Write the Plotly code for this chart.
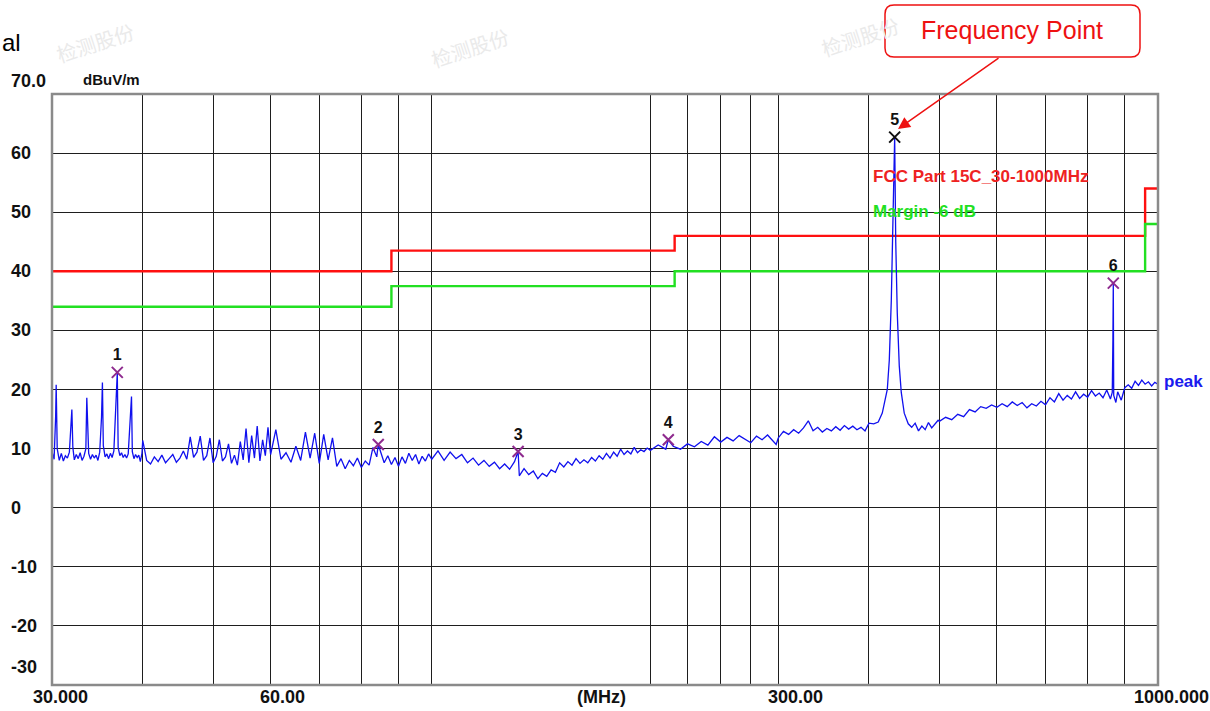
import math
import plotly.graph_objects as go

# ---------------- data ----------------
freq_mhz = [
    30.0, 30.2, 30.35, 30.4, 30.5, 30.7, 30.9, 31.1, 31.3, 31.5, 31.7, 31.85, 31.95, 32.05,
    32.2, 32.4, 32.6, 32.8, 33.0, 33.2, 33.4, 33.5, 33.6, 33.7, 33.9, 34.1, 34.3, 34.5,
    34.7, 34.9, 35.1, 35.2, 35.3, 35.5, 35.7, 35.9, 36.1, 36.3, 36.5, 36.75, 36.9, 37.0,
    37.2, 37.4, 37.6, 37.8, 38.0, 38.2, 38.45, 38.6, 38.7, 38.9, 39.1, 39.3, 39.5, 39.7, 39.9,
    40.0, 40.5, 41.0, 41.5, 42.0, 42.5, 43.0, 43.5, 44.0, 44.5, 45.0, 45.5, 46.0, 46.5,
    47.0, 47.5, 48.0, 48.5, 49.0, 49.5, 50.0, 50.5, 51.0, 51.5, 52.0, 52.5, 53.0, 53.5,
    54.0, 54.5, 55.0, 55.5, 56.0, 56.5, 57.0, 57.5, 58.0, 58.5, 59.0, 59.5, 60.0,
    61, 62, 63, 64, 65, 66, 67, 68, 69, 70, 71, 72, 73, 74, 75, 76, 77, 78, 79, 80,
    81, 82, 83, 84, 84.4, 85, 86, 87, 88, 89, 90, 91, 92, 93, 94, 95, 96, 97, 98, 99,
    100, 102, 104, 106, 108, 110, 112, 114, 116, 118, 120, 122, 124, 126, 128, 130, 131.5,
    132, 134, 136, 138, 140, 142, 144, 146, 148, 150, 152, 154, 156, 158, 160, 162, 164,
    166, 168, 170, 172, 174, 176, 178, 180, 182, 184, 186, 188, 190, 192, 194, 196, 198, 200,
    205, 210, 211.7, 215, 220, 225, 230, 235, 240, 245, 250, 255, 260, 265, 270, 275, 280,
    285, 290, 295, 298, 300, 305, 310, 315, 320, 325, 330, 335, 340, 345, 350, 355, 360,
    365, 370, 375, 380, 385, 390, 395, 400, 406, 411.9, 417.2, 423.9, 426.6, 429.3, 432.0,
    433.92, 435.4, 437.5, 440.3, 443.1, 447.3, 453.0, 458, 463, 468, 473, 478, 483, 488,
    493, 498, 500, 510, 520, 530, 540, 550, 560, 570, 580, 590, 600, 610, 620, 630, 640,
    650, 660, 670, 680, 690, 700, 710, 720, 730, 740, 750, 760, 770, 780, 790, 800, 810,
    820, 830, 840, 850, 860, 865, 866.8, 867.84, 869, 875, 880, 890, 900, 910, 920, 930,
    940, 950, 960, 970, 980, 990, 1000,
]
peak_dbuv = [
    9.5, 8.2, 15.5, 20.8, 10.0, 8.0, 9.2, 7.9, 8.8, 8.4, 9.4, 15.2, 16.6, 10.2,
    8.1, 9.0, 8.3, 9.3, 8.0, 8.7, 10.0, 18.6, 15.0, 9.2, 8.2, 9.0, 8.4, 8.9,
    8.0, 9.4, 15.3, 21.2, 10.5, 8.6, 9.1, 8.3, 9.2, 8.5, 9.6, 18.8, 22.9, 10.2,
    8.8, 9.3, 8.5, 9.0, 8.4, 9.1, 15.3, 18.8, 9.5, 8.3, 9.0, 8.5, 8.9, 7.8, 9.2,
    11.4, 8.0, 7.4, 8.6, 7.8, 8.9, 7.6, 8.3, 9.0, 7.7, 8.4, 9.6, 8.2, 12.0,
    8.5, 9.4, 12.1, 8.0, 8.8, 11.8, 7.6, 8.7, 11.5, 7.9, 8.6, 10.8, 7.5, 8.9,
    7.2, 11.2, 8.1, 13.4, 7.6, 12.2, 8.4, 13.8, 7.9, 11.5, 8.8, 13.6, 9.0,
    13.2, 8.2, 9.3, 7.7, 10.4, 8.0, 12.8, 8.4, 12.6, 7.5, 12.4, 8.1, 11.8, 7.0, 8.3, 6.6, 8.0, 7.1, 8.4, 6.8,
    7.9, 7.2, 10.2, 8.6, 10.7, 9.4, 7.6, 8.8, 7.3, 8.5, 7.0, 8.6, 7.5, 9.2, 8.0, 9.0, 7.4, 8.7, 7.9, 9.1,
    8.2, 9.6, 8.0, 9.4, 8.3, 9.0, 7.6, 8.4, 7.2, 8.0, 7.0, 7.7, 6.6, 7.4, 6.5, 7.8, 9.5,
    5.4, 6.6, 5.6, 6.2, 4.9, 5.8, 5.3, 6.4, 6.0, 7.6, 6.9, 7.8, 7.2, 8.3, 7.5, 8.1, 7.6,
    8.5, 7.9, 8.8, 8.2, 9.2, 8.4, 9.4, 8.7, 9.9, 9.0, 9.6, 9.1, 10.2, 9.3, 9.8, 9.5, 10.1, 9.7,
    10.6, 9.9, 11.5, 10.4, 9.9, 10.8, 10.3, 11.2, 10.6, 12.0, 11.1, 11.9, 11.3, 12.2, 11.6, 11.0, 12.1,
    11.5, 12.3, 11.4, 10.7, 11.8, 12.9, 12.4, 13.2, 12.6, 13.5, 14.7, 13.0, 13.6, 12.8, 13.4, 13.0, 13.7,
    13.1, 13.9, 13.3, 13.8, 13.2, 13.6, 13.0, 14.3, 14.2, 14.5, 16.0, 20.0, 25.0, 35.0, 50.0,
    62.7, 45.0, 33.0, 24.0, 19.5, 16.0, 14.2, 13.6, 14.3, 13.0, 13.8, 13.2, 14.4, 13.5,
    14.1, 14.8, 14.6, 15.3, 14.9, 15.8, 15.4, 16.6, 16.2, 17.1, 16.8, 17.4, 17.0, 17.6, 17.1, 17.9, 17.3,
    17.8, 16.9, 17.6, 17.2, 18.0, 17.4, 18.6, 17.9, 19.3, 18.2, 19.0, 18.4, 19.6, 18.5, 19.2, 18.7, 19.8,
    18.9, 19.4, 18.6, 19.9, 18.4, 19.5, 28.5, 38.0, 19.0, 17.8, 19.6, 18.2, 20.3, 20.8, 20.2, 21.4,
    20.7, 21.6, 20.9, 21.3, 20.6, 21.2, 20.9,
]

limit_freq = [30, 88, 216, 960, 1000]
limit_dbuv = [40, 43.5, 46, 54, 54]
margin_dbuv = [34, 37.5, 40, 48, 48]

marker_ids = ["1", "2", "3", "4", "5", "6"]
marker_freq = [36.9, 84.4, 131.5, 211.7, 433.92, 867.84]
marker_dbuv = [22.9, 10.7, 9.5, 11.5, 62.7, 38.0]
marker_colors = ["#8e2a8e", "#8e2a8e", "#8e2a8e", "#8e2a8e", "#111111", "#8e2a8e"]

x_grid_mhz = [40, 50, 60, 70, 80, 90, 100, 200, 225, 250, 275, 300, 400, 500, 600, 700, 800, 900]
y_grid_db = [-20, -10, 0, 10, 20, 30, 40, 50, 60]
y_tick_labels = ["60", "50", "40", "30", "20", "10", "0", "-10", "-20"]
y_tick_values = [60, 50, 40, 30, 20, 10, 0, -10, -20]
x_label_texts = ["30.000", "60.00", "(MHz)", "300.00", "1000.000"]

# ---------------- geometry helpers (pixel layout) ----------------
W, H = 1210, 711
L, R, T, B = 52, 52, 94, 26
PW, PH = W - L - R, H - T - B


def px(x):
    return (x - L) / PW


def py(y):
    return (H - B - y) / PH


FONT = "Liberation Sans"

fig = go.Figure()

fig.add_trace(go.Scatter(x=limit_freq, y=limit_dbuv, mode="lines", line_shape="hv",
                         line=dict(color="#ff1010", width=2.4), hoverinfo="skip", showlegend=False))
fig.add_trace(go.Scatter(x=limit_freq, y=margin_dbuv, mode="lines", line_shape="hv",
                         line=dict(color="#22e022", width=2.4), hoverinfo="skip", showlegend=False))
fig.add_trace(go.Scatter(x=freq_mhz, y=peak_dbuv, mode="lines",
                         line=dict(color="#1010ee", width=1.3), showlegend=False))
fig.add_trace(go.Scatter(
    x=marker_freq, y=marker_dbuv, mode="markers+text", text=marker_ids,
    textposition="top center",
    textfont=dict(family=FONT, size=16, color="#111111", weight="bold"),
    marker=dict(symbol="x-thin", size=11, color=marker_colors,
                line=dict(width=2, color=marker_colors)),
    cliponaxis=False, showlegend=False))

ann = []
# y tick labels
for lab, val in zip(y_tick_labels, y_tick_values):
    ann.append(dict(text=f"<b>{lab}</b>", xref="paper", yref="y", x=px(9), y=val,
                    xanchor="left", yanchor="middle", showarrow=False,
                    font=dict(family=FONT, size=18, color="#111")))
ann.append(dict(text="<b>70.0</b>", xref="paper", yref="paper", x=px(9), y=py(81),
                xanchor="left", yanchor="middle", showarrow=False,
                font=dict(family=FONT, size=18, color="#111")))
ann.append(dict(text="<b>-30</b>", xref="paper", yref="paper", x=px(9), y=py(667),
                xanchor="left", yanchor="middle", showarrow=False,
                font=dict(family=FONT, size=18, color="#111")))
ann.append(dict(text="<b>dBuV/m</b>", xref="paper", yref="paper", x=px(81), y=py(79),
                xanchor="left", yanchor="middle", showarrow=False,
                font=dict(family=FONT, size=15, color="#111")))
# x labels
x_label_pos = [60, 282, 601, 795, 1171]
for lab, xp in zip(x_label_texts, x_label_pos):
    ann.append(dict(text=f"<b>{lab}</b>", xref="paper", yref="paper", x=px(xp), y=py(697),
                    xanchor="center", yanchor="middle", showarrow=False,
                    font=dict(family=FONT, size=18, color="#111")))
# limit labels
ann.append(dict(text="<b>FCC Part 15C_30-1000MHz</b>", xref="paper", yref="paper", x=px(871), y=py(176),
                xanchor="left", yanchor="middle", showarrow=False,
                font=dict(family=FONT, size=17, color="#ee2222")))
ann.append(dict(text="<b>Margin -6 dB</b>", xref="paper", yref="paper", x=px(871), y=py(211),
                xanchor="left", yanchor="middle", showarrow=False,
                font=dict(family=FONT, size=17, color="#22e022")))
ann.append(dict(text="<b>peak</b>", xref="paper", yref="paper", x=px(1162), y=py(381),
                xanchor="left", yanchor="middle", showarrow=False,
                font=dict(family=FONT, size=17, color="#1a1aee")))
# cropped title fragment
ann.append(dict(text="al", xref="paper", yref="paper", x=px(0), y=py(42),
                xanchor="left", yanchor="middle", showarrow=False,
                font=dict(family=FONT, size=24, color="#000")))
# watermarks
for wx, wy in [(95, 42), (470, 48), (860, 36)]:
    ann.append(dict(text="检测股份", xref="paper", yref="paper", x=px(wx), y=py(wy),
                    xanchor="center", yanchor="middle", showarrow=False, textangle=-18,
                    font=dict(family="Noto Sans CJK SC", size=20, color="#eaeaea")))
# callout
ann.append(dict(text="Frequency Point", xref="paper", yref="paper", x=px(1012), y=py(30),
                xanchor="center", yanchor="middle", showarrow=False,
                font=dict(family=FONT, size=25, color="#ee1111")))
ann.append(dict(text="", xref="paper", yref="paper", x=px(898), y=py(129),
                ax=1000 - 898, ay=57 - 129, axref="pixel", ayref="pixel",
                showarrow=True, arrowhead=2, arrowsize=1.6, arrowwidth=1.5, arrowcolor="#ee1111"))

# rounded callout box
x0, x1 = px(885), px(1140)
y0, y1 = py(57), py(5)
rx, ry = 9 / PW, 9 / PH
path = (f"M {x0+rx},{y1} L {x1-rx},{y1} Q {x1},{y1} {x1},{y1-ry} L {x1},{y0+ry} "
        f"Q {x1},{y0} {x1-rx},{y0} L {x0+rx},{y0} Q {x0},{y0} {x0},{y0+ry} "
        f"L {x0},{y1-ry} Q {x0},{y1} {x0+rx},{y1} Z")
shapes = [
    dict(type="path", path=path, xref="paper", yref="paper",
         line=dict(color="#ee1111", width=1.5), fillcolor="white", layer="below"),
    dict(type="rect", xref="paper", yref="paper", x0=0, x1=1, y0=0, y1=1,
         line=dict(color="#8a8a8a", width=2.5), layer="above"),
]

fig.update_layout(
    width=W, height=H,
    margin=dict(l=L, r=R, t=T, b=B, pad=0),
    paper_bgcolor="white", plot_bgcolor="white",
    showlegend=False,
    annotations=ann, shapes=shapes,
    xaxis=dict(type="log", range=[math.log10(30), math.log10(1000)],
               tickvals=x_grid_mhz, showticklabels=False, ticks="",
               showgrid=True, gridcolor="#1e1e1e", gridwidth=1.3, zeroline=False,
               showline=False, fixedrange=True),
    yaxis=dict(range=[-30, 70], tickvals=y_grid_db, showticklabels=False, ticks="",
               showgrid=True, gridcolor="#1e1e1e", gridwidth=1.3, zeroline=False,
               showline=False, fixedrange=True),
)

fig.write_html("out.html", config={"displayModeBar": False},
               post_script="document.body.style.margin='0';document.body.style.overflow='hidden';")
